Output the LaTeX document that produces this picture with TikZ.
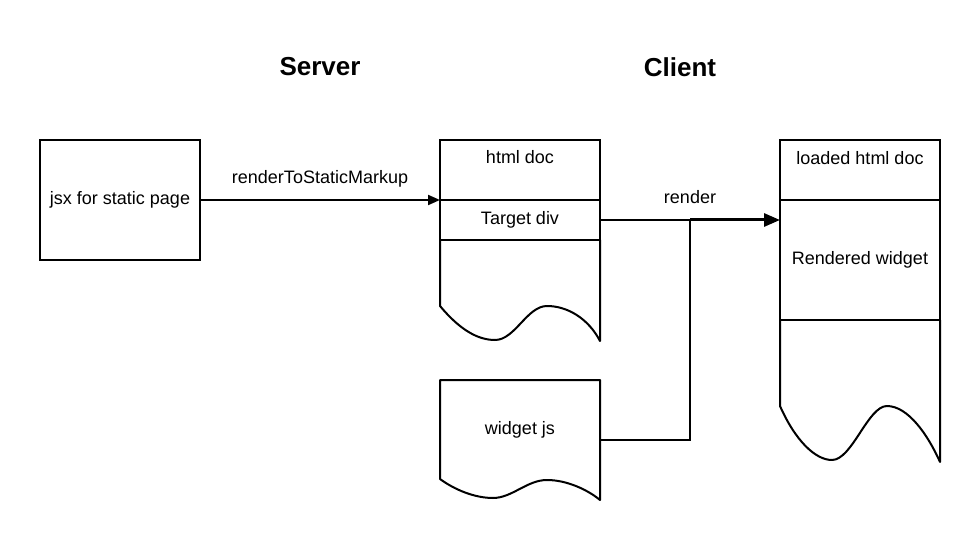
\documentclass[tikz,border=0pt]{standalone}
\usepackage{fontspec}
\setmainfont{Liberation Sans}
\usetikzlibrary{arrows.meta}
\tikzset{
  box/.style={draw=black, line width=2pt, rectangle, inner sep=0pt, outer sep=0pt, minimum width=160pt},
  txt/.style={font=\fontsize{18}{21}\selectfont, inner sep=0pt},
  ttl/.style={font=\fontsize{26}{30}\selectfont\bfseries, inner sep=0pt},
  outline/.style={draw=black, line width=2pt, line join=round},
  conn/.style={draw=black, line width=2pt},
  arr/.style={conn, -{Triangle[length=12pt,width=10pt]}},
  bigarr/.style={draw=black, line width=3pt, -{Triangle[length=16pt,width=13pt]}}
}
\begin{document}
\begin{tikzpicture}[x=1pt,y=-1pt]
\useasboundingbox[fill=white] (0,0) rectangle (980,540);

% titles
\node[ttl] (server) at (320,67) {Server};
\node[ttl] (client) at (680,67) {Client};

% jsx box
\node[box, minimum height=120pt, txt] (jsx) at (120,200) {jsx for static page};

% html doc
\node[box, minimum height=60pt] (hd) at (520,170) {};
\node[txt] (hdt) at (520,157) {html doc};
\node[box, minimum height=40pt, txt] (td) at (520,220) {Target div};
\draw[outline] (td.south west) -- (440,306)
  .. controls (460,330) and (478,340) .. (495,340)
  .. controls (515,340) and (527,306) .. (547,306)
  .. controls (567,306) and (588,318) .. (600,341) -- (td.south east);

% widget js
\draw[outline] (440,479) -- (440,380) -- (600,380) -- (600,500)
  .. controls (588,490) and (567,480) .. (547,480)
  .. controls (527,480) and (512,498) .. (493,498)
  .. controls (475,498) and (455,490) .. (440,479) -- cycle;
\node[txt] (wjs) at (520,429.5) {widget js};
\coordinate (wjsout) at (600,440);

% loaded html doc
\node[box, minimum height=60pt] (ld) at (860,170) {};
\node[txt] (ldt) at (860,158) {loaded html doc};
\node[box, minimum height=120pt] (rw) at (860,260) {};
\node[txt] (rwt) at (860,259.5) {Rendered widget};
\draw[outline] (rw.south west) -- (780,406)
  .. controls (795,440) and (815,460) .. (832,460)
  .. controls (852,460) and (868,406) .. (887,406)
  .. controls (908,406) and (928,435) .. (940,462) -- (rw.south east);

% connectors
\draw[arr] (jsx.east) -- (jsx.east -| td.west)
  node[txt, midway, yshift=21.5pt] (lbl1) {renderToStaticMarkup};
\coordinate (junc) at (690,220);
\draw[conn] (td.east) -- (junc);
\draw[conn] (wjsout) -| (junc);
\draw[bigarr] (junc) -- (td.east -| rw.west);
\node[txt] (lbl2) at (690,197) {render};
\end{tikzpicture}
\end{document}
